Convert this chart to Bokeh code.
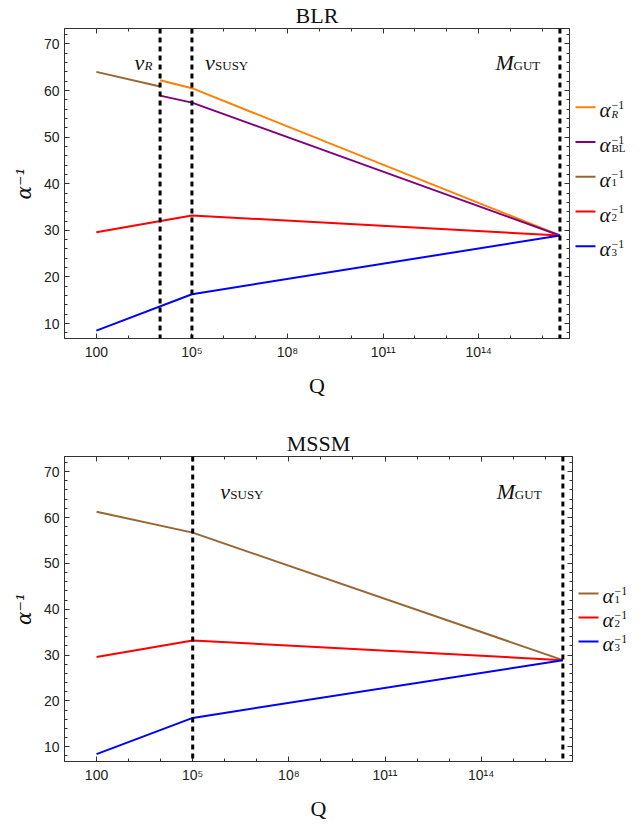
import numpy as np
from bokeh.plotting import figure
from bokeh.models import Range1d, FixedTicker, LogAxis, LinearAxis, Span
from bokeh.layouts import column, row
from bokeh.embed import file_html
from bokeh.resources import INLINE
from bokeh.core.properties import value

# ---- energy scales (GeV) ----
Q_start = 1e2
v_R = 1e4
v_SUSY = 1e5
M_GUT = 10 ** 16.55

# ---- BLR model (inverse couplings) ----
blr_q_low = [Q_start, v_R]
blr_alpha1 = [64.0, 60.85]
blr_q_high = [v_R, v_SUSY, M_GUT]
blr_alphaR = [62.2, 60.5, 28.9]
blr_alphaBL = [58.9, 57.4, 28.9]
blr_q_23 = [Q_start, v_SUSY, M_GUT]
blr_alpha2 = [29.6, 33.2, 28.9]
blr_alpha3 = [8.5, 16.3, 28.9]

# ---- MSSM ----
mssm_q = [Q_start, v_SUSY, M_GUT]
mssm_alpha1 = [61.25, 56.7, 28.9]
mssm_alpha2 = [29.6, 33.2, 28.9]
mssm_alpha3 = [8.4, 16.3, 28.9]

# ---- ticks ----
x_major = [1e2, 1e5, 1e8, 1e11, 1e14]
x_labels = ["100", "10\u2075", "10\u2078", "10\u00b9\u00b9", "10\u00b9\u2074"]
x_minor = [10.0 ** k for k in range(1, 17)]
y_major = [10, 20, 30, 40, 50, 60, 70]
y_minor = list(range(8, 74, 2))

C_R = "#FF8000"
C_BL = "#800080"
C_1 = "#996633"
C_2 = "#FF0000"
C_3 = "#0000FF"

SERIF = "Liberation Serif"
SANS = "Liberation Sans"
FRAME = "#333333"


def style_axis(ax, show_labels):
    ax.axis_line_color = FRAME
    ax.major_tick_line_color = FRAME
    ax.minor_tick_line_color = FRAME
    ax.major_tick_in = 5
    ax.major_tick_out = 0
    ax.minor_tick_in = 3
    ax.minor_tick_out = 0
    if show_labels:
        ax.major_label_text_font = SANS
        ax.major_label_text_font_size = "14px"
        ax.major_label_text_color = "#222222"
    else:
        ax.major_label_text_font_size = "1px"
        ax.major_label_text_alpha = 0
        ax.major_label_standoff = 0


def make_main(title, width, height, top, bottom):
    p = figure(width=width, height=height, x_axis_type="log",
               x_range=Range1d(10, 10 ** 16.85), y_range=Range1d(6.8, 73.3),
               output_backend="svg", toolbar_location=None,
               min_border_left=64, min_border_right=2,
               min_border_top=top, min_border_bottom=bottom,
               background_fill_color="white", border_fill_color="white")
    p.grid.visible = False
    p.outline_line_color = FRAME
    p.title.text = title
    p.title.align = "center"
    p.title.text_font = SERIF
    p.title.text_font_size = "22px"
    p.title.text_font_style = "normal"
    p.title.text_color = "#111111"
    p.title.standoff = 1

    xt = FixedTicker(ticks=x_major, minor_ticks=x_minor)
    yt = FixedTicker(ticks=y_major, minor_ticks=y_minor)
    p.xaxis.ticker = xt
    p.yaxis.ticker = yt
    p.xaxis.major_label_overrides = {float(k): s for k, s in zip(x_major, x_labels)}
    style_axis(p.xaxis[0], True)
    style_axis(p.yaxis[0], True)
    p.xaxis.major_label_standoff = 5
    p.yaxis.major_label_standoff = 5
    p.xaxis.axis_label = "Q"
    p.xaxis.axis_label_text_font = SERIF
    p.xaxis.axis_label_text_font_size = "22px"
    p.xaxis.axis_label_text_font_style = "normal"
    p.xaxis.axis_label_text_color = "#111111"
    p.xaxis.axis_label_standoff = 10
    p.yaxis.axis_label = "\u03b1\u207b\u00b9"
    p.yaxis.axis_label_text_font = "DejaVu Serif"
    p.yaxis.axis_label_text_font_size = "20px"
    p.yaxis.axis_label_text_font_style = "italic"
    p.yaxis.axis_label_text_color = "#111111"
    p.yaxis.axis_label_standoff = 5

    top_ax = LogAxis(ticker=FixedTicker(ticks=x_major, minor_ticks=x_minor))
    style_axis(top_ax, False)
    p.add_layout(top_ax, "above")
    right_ax = LinearAxis(ticker=FixedTicker(ticks=y_major, minor_ticks=y_minor))
    style_axis(right_ax, False)
    p.add_layout(right_ax, "right")
    return p


def vline(p, loc):
    p.add_layout(Span(location=loc, dimension="height", line_color="black",
                      line_width=3, line_dash="5 4"))


def math_label(p, x, y, main, sub, sub_dx, sub_italic):
    p.text(x=[x], y=[y], text=[main], text_font=value(SERIF),
           text_font_style="italic", text_font_size="22px",
           text_align="left", text_baseline="alphabetic", text_color="#111111")
    p.text(x=[x], y=[y], text=[sub], x_offset=sub_dx, y_offset=2.5,
           text_font=value(SERIF),
           text_font_style="italic" if sub_italic else "normal",
           text_font_size="13px", text_align="left",
           text_baseline="alphabetic", text_color="#111111")


def make_legend(width, height, items, y0, dy):
    L = figure(width=width, height=height, x_range=Range1d(0, width),
               y_range=Range1d(height, 0), output_backend="svg",
               toolbar_location=None, min_border=0,
               x_axis_location=None, y_axis_location=None)
    L.outline_line_color = None
    L.grid.visible = False
    for i, (color, sub, sub_italic) in enumerate(items):
        y = y0 + i * dy
        L.segment(x0=[4], y0=[y], x1=[24], y1=[y], line_color=color, line_width=2)
        L.text(x=[28], y=[y + 4], text=["\u03b1"], text_font=value(SERIF),
               text_font_style="italic", text_font_size="21px",
               text_baseline="alphabetic", text_color="#111111")
        L.text(x=[40], y=[y - 3], text=["\u22121"], text_font=value(SERIF),
               text_font_size="12px", text_baseline="alphabetic",
               text_color="#111111")
        L.text(x=[40], y=[y + 8], text=[sub], text_font=value(SERIF),
               text_font_style="italic" if sub_italic else "normal",
               text_font_size="11px", text_baseline="alphabetic",
               text_color="#111111")
    return L


# ---------------- top: BLR ----------------
H1 = 400
W1 = 64 + 505 + 2
p1 = make_main("BLR", W1, H1, 28, 62)
for loc in (v_R, v_SUSY, M_GUT):
    vline(p1, loc)
p1.line(blr_q_low, blr_alpha1, line_color=C_1, line_width=2)
p1.line(blr_q_high, blr_alphaR, line_color=C_R, line_width=2)
p1.line(blr_q_high, blr_alphaBL, line_color=C_BL, line_width=2)
p1.line(blr_q_23, blr_alpha2, line_color=C_2, line_width=2)
p1.line(blr_q_23, blr_alpha3, line_color=C_3, line_width=2)
math_label(p1, 10 ** 3.2, 65.9, "v", "R", 10, True)
math_label(p1, 10 ** 5.41, 65.9, "v", "SUSY", 10, False)
math_label(p1, 10 ** 14.53, 65.9, "M", "GUT", 18, False)
leg1 = make_legend(626 - W1, H1,
                   [(C_R, "R", True), (C_BL, "BL", False), (C_1, "1", False),
                    (C_2, "2", False), (C_3, "3", False)],
                   101.7, 44.8)

# ---------------- bottom: MSSM ----------------
H2 = 423
W2 = 64 + 508 + 2
p2 = make_main("MSSM", W2, H2, 56, 57)
for loc in (v_SUSY, M_GUT):
    vline(p2, loc)
p2.line(mssm_q, mssm_alpha1, line_color=C_1, line_width=2)
p2.line(mssm_q, mssm_alpha2, line_color=C_2, line_width=2)
p2.line(mssm_q, mssm_alpha3, line_color=C_3, line_width=2)
math_label(p2, 10 ** 5.86, 65.6, "v", "SUSY", 10, False)
math_label(p2, 10 ** 14.49, 65.6, "M", "GUT", 18, False)
leg2 = make_legend(626 - W2, H2,
                   [(C_1, "1", False), (C_2, "2", False), (C_3, "3", False)],
                   190.0, 33.3)

layout = column(row(p1, leg1), row(p2, leg2))
open("out.html", "w").write(file_html(layout, INLINE))
